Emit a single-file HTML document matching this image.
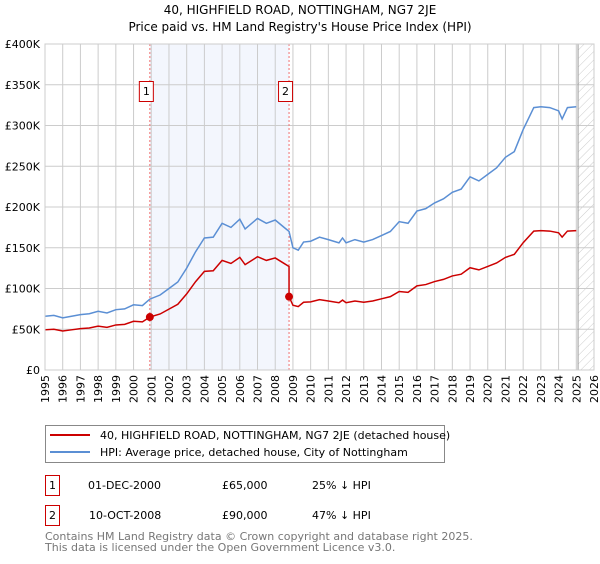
<!DOCTYPE html>
<html><head><meta charset="utf-8"><style>
body{margin:0;background:#fff;font-family:"DejaVu Sans","Liberation Sans",sans-serif;}
svg text{font-family:"DejaVu Sans","Liberation Sans",sans-serif;}
</style></head><body>
<svg width="600" height="560" xmlns="http://www.w3.org/2000/svg">
<defs><pattern id="hatch" width="6" height="6" patternUnits="userSpaceOnUse" patternTransform="rotate(45)"><line x1="0" y1="0" x2="0" y2="6" stroke="#ccc" stroke-width="1"/></pattern></defs>
<text x="300" y="14" text-anchor="middle" font-size="12">40, HIGHFIELD ROAD, NOTTINGHAM, NG7 2JE</text>
<text x="300" y="31" text-anchor="middle" font-size="12">Price paid vs. HM Land Registry's House Price Index (HPI)</text>
<g id="plot"></g>
<g>
<rect x="45.5" y="425.5" width="399" height="37" fill="#fff" stroke="#888"/>
<line x1="50" y1="435" x2="90" y2="435" stroke="#cc0000" stroke-width="2"/>
<text x="100" y="439" font-size="11">40, HIGHFIELD ROAD, NOTTINGHAM, NG7 2JE (detached house)</text>
<line x1="50" y1="452" x2="90" y2="452" stroke="#5b8fd4" stroke-width="2"/>
<text x="100" y="456" font-size="11">HPI: Average price, detached house, City of Nottingham</text>
</g>
<g font-size="11">
<rect x="45.5" y="475.5" width="14" height="20" fill="#fff" stroke="#cc0000"/>
<text x="52.5" y="489" text-anchor="middle">1</text>
<text x="88" y="489">01-DEC-2000</text><text x="222" y="489">£65,000</text><text x="312" y="489">25% ↓ HPI</text>
<rect x="45.5" y="505.5" width="14" height="20" fill="#fff" stroke="#cc0000"/>
<text x="52.5" y="519" text-anchor="middle">2</text>
<text x="89" y="519">10-OCT-2008</text><text x="222" y="519">£90,000</text><text x="312" y="519">47% ↓ HPI</text>
</g>
<g font-size="11" fill="#777">
<text x="45" y="540">Contains HM Land Registry data © Crown copyright and database right 2025.</text>
<text x="45" y="551">This data is licensed under the Open Government Licence v3.0.</text>
</g>
</svg>
<script>
const hpiYears=[1995,1995.5,1996,1996.5,1997,1997.5,1998,1998.5,1999,1999.5,2000,2000.5,2000.92,2001.5,2002,2002.5,2003,2003.5,2004,2004.5,2005,2005.5,2006,2006.3,2007,2007.5,2008,2008.5,2008.78,2009,2009.3,2009.6,2010,2010.5,2011,2011.6,2011.8,2012,2012.5,2013,2013.5,2014,2014.5,2015,2015.5,2016,2016.5,2017,2017.5,2018,2018.5,2019,2019.5,2020,2020.5,2021,2021.5,2022,2022.6,2023,2023.5,2024,2024.2,2024.5,2025];
const hpiValues=[66,67,64,66,68,69,72,70,74,75,80,79,87,92,100,108,125,145,162,163,180,175,185,173,186,180,184,175,170,150,147,157,158,163,160,156,162,156,160,157,160,165,170,182,180,195,198,205,210,218,222,237,232,240,248,261,268,295,322,323,322,318,308,322,323];
const saleYears=[2000.92,2008.78];
const salePrices=[65,90];
const yTicks=[0,50,100,150,200,250,300,350,400];
const xTicks=[1995,1996,1997,1998,1999,2000,2001,2002,2003,2004,2005,2006,2007,2008,2009,2010,2011,2012,2013,2014,2015,2016,2017,2018,2019,2020,2021,2022,2023,2024,2025,2026];
const X0=45,X1=594,Y0=370,Y1=44;
const x=t=>X0+(t-1995)/31*(X1-X0);
const y=v=>Y0-v/400*(Y0-Y1);
const g=document.getElementById('plot');const NS='http://www.w3.org/2000/svg';
function mk(tag,attrs,parent){const e=document.createElementNS(NS,tag);for(const k in attrs)e.setAttribute(k,attrs[k]);(parent||g).appendChild(e);return e;}
let e=mk('rect',{x:x(saleYears[0]),y:Y1,width:x(saleYears[1])-x(saleYears[0]),height:Y0-Y1,fill:'#f3f6fd'});


e=mk('rect',{x:x(2025.1),y:Y1,width:X1-x(2025.1),height:Y0-Y1,fill:'url(#hatch)'});


xTicks.forEach(t=>{const l=mk('line',{x1:x(t),x2:x(t),y1:Y1,y2:Y0,stroke:'#ccc'});


const tx=mk('text',{x:0,y:0,'font-size':11,'text-anchor':'end',transform:`translate(${x(t)+4},${Y0+5}) rotate(-90)`});tx.textContent=t;

});
yTicks.forEach(v=>{const l=mk('line',{x1:X0,x2:X1,y1:y(v),y2:y(v),stroke:'#ccc'});


const tx=mk('text',{x:40,y:y(v)+4,'font-size':11,'text-anchor':'end'});tx.textContent=v===0?'£0':'£'+v+'K';

});
e=mk('line',{x1:x(2025.1),x2:x(2025.1),y1:Y1,y2:Y0,stroke:'#999'});


saleYears.forEach((t,i)=>{const l=mk('line',{x1:x(t),x2:x(t),y1:Y1,y2:Y0,stroke:'#f07070','stroke-dasharray':'2,2'});

});
function hpiAt(t){for(let i=1;i<hpiYears.length;i++){if(t<=hpiYears[i]){const f=(t-hpiYears[i-1])/(hpiYears[i]-hpiYears[i-1]);return hpiValues[i-1]+f*(hpiValues[i]-hpiValues[i-1]);}}return hpiValues[hpiValues.length-1];}
e=mk('polyline',{points:hpiYears.map((t,i)=>x(t)+','+y(hpiValues[i])).join(' '),fill:'none',stroke:'#5b8fd4','stroke-width':1.5});


const r1=salePrices[0]/hpiAt(saleYears[0]),r2=salePrices[1]/hpiAt(saleYears[1]);
const pts=[];hpiYears.forEach((t,i)=>{if(t<saleYears[1])pts.push([t,hpiValues[i]*r1]);});
pts.push([saleYears[1],hpiAt(saleYears[1])*r1]);
hpiYears.forEach((t,i)=>{if(t>=saleYears[1])pts.push([t,hpiValues[i]*r2]);});
e=mk('polyline',{points:pts.map(p=>x(p[0])+','+y(p[1])).join(' '),fill:'none',stroke:'#cc0000','stroke-width':1.5});


saleYears.forEach((t,i)=>{const c=mk('circle',{cx:x(t),cy:y(salePrices[i]),r:4,fill:'#cc0000'});


const b=mk('rect',{x:x(t)-10.5,y:81.5,width:14,height:20,fill:'#fff',stroke:'#cc0000'});


const tx=mk('text',{x:x(t)-3.5,y:95,'font-size':11,'text-anchor':'middle'});tx.textContent=i+1;

});
e=mk('rect',{x:X0,y:Y1,width:X1-X0,height:Y0-Y1,fill:'none',stroke:'#ccc'});


</script>
</body></html>
